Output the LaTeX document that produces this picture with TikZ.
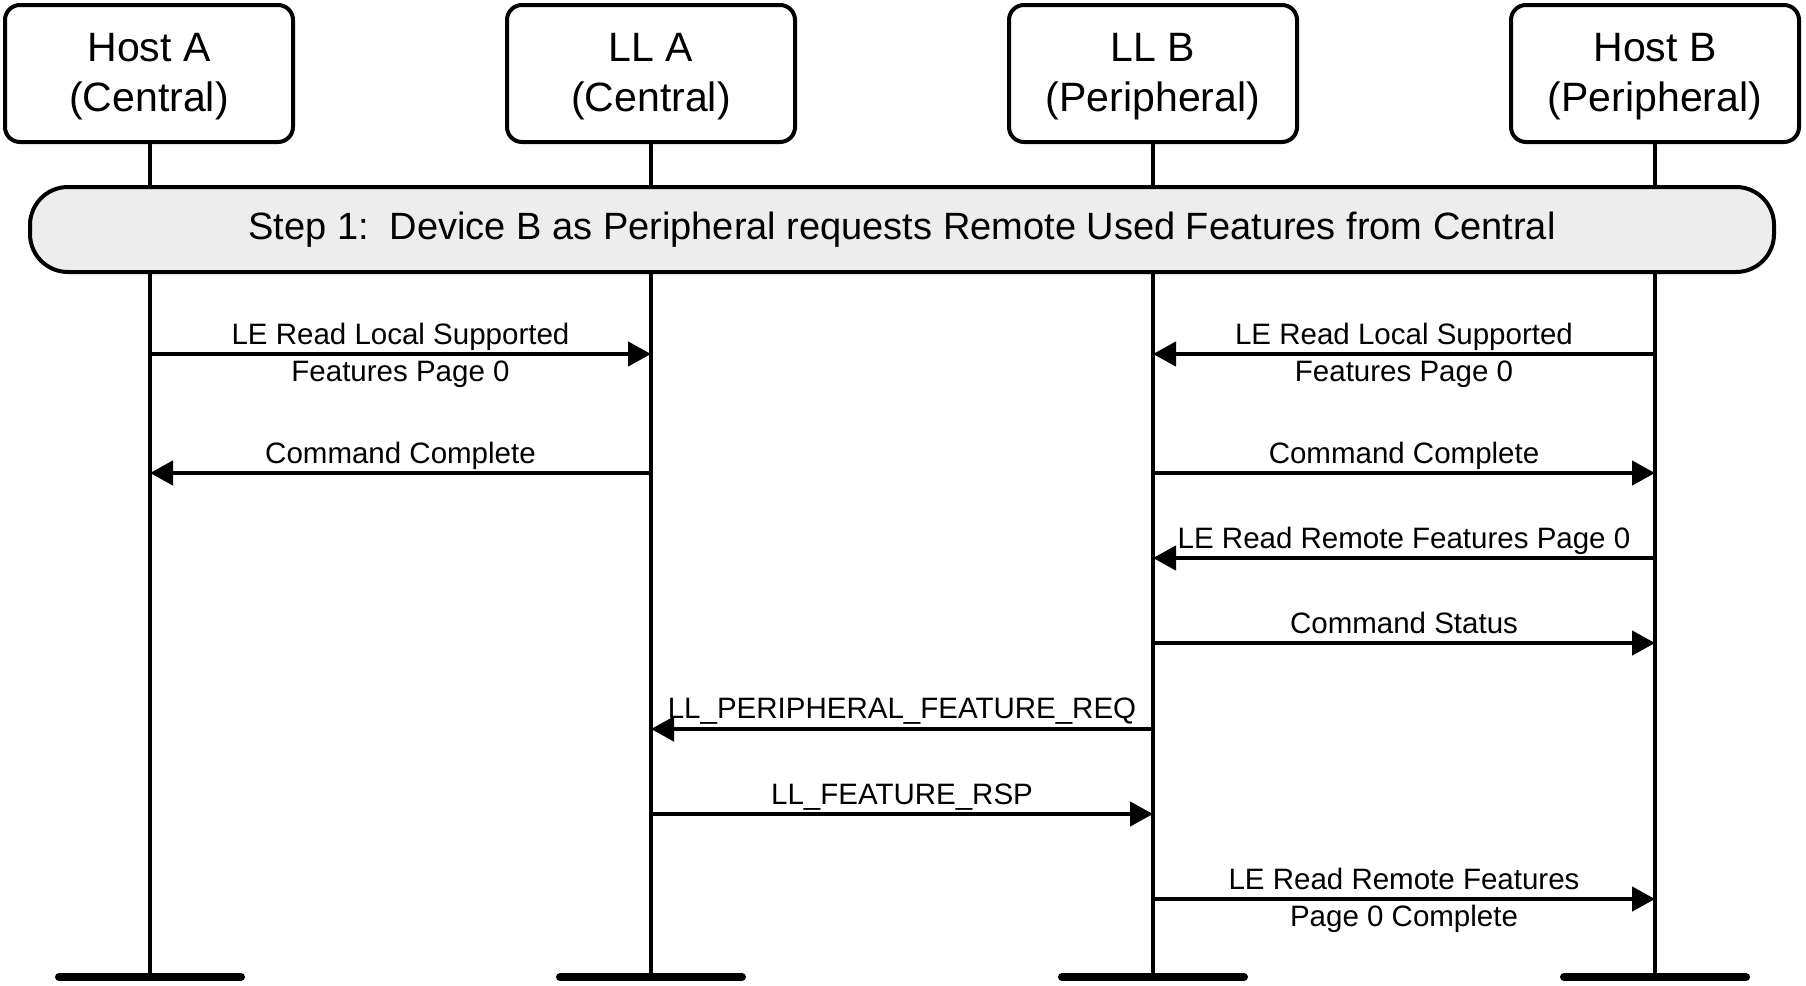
\documentclass[tikz,border=0pt]{standalone}
\usepackage{fontspec}
\setmainfont{Liberation Sans}
\usetikzlibrary{arrows.meta}
\begin{document}
\begin{tikzpicture}[x=1pt,y=-1pt,
  hdr/.style={draw, line width=4pt, rounded corners=15pt, minimum width=288pt, minimum height=137pt,
    align=center, inner sep=0pt, font=\fontsize{41}{50}\selectfont},
  life/.style={line width=3.5pt},
  bar/.style={line width=8pt, line cap=round},
  msg/.style={line width=4.5pt, -{Triangle[length=23pt,width=24pt]}},
  lbl/.style={anchor=base, inner sep=0pt, font=\fontsize{29.5}{35}\selectfont},
  band/.style={draw, line width=4pt, fill=black!7, rounded corners=38pt}
]
\useasboundingbox (0,0) rectangle (1806,985);
% headers
\node[hdr] (hA) at (149,73.5) {\rule{0pt}{34pt}Host A\\(Central)};
\node[hdr] (lA) at (651,73.5) {\rule{0pt}{34pt}LL A\\(Central)};
\node[hdr] (lB) at (1153,73.5) {\rule{0pt}{34pt}LL B\\(Peripheral)};
\node[hdr] (hB) at (1655,73.5) {\rule{0pt}{34pt}Host B\\(Peripheral)};
% lifeline ends
\coordinate (eA) at (150,977);
\coordinate (eLA) at (651,977);
\coordinate (eLB) at (1153,977);
\coordinate (eB) at (1655,977);
\draw[life] (hA.south -| eA) -- (eA);
\draw[life] (lA.south -| eLA) -- (eLA);
\draw[life] (lB.south -| eLB) -- (eLB);
\draw[life] (hB.south -| eB) -- (eB);
\draw[bar] ([xshift=-91pt]eA) -- ([xshift=91pt]eA);
\draw[bar] ([xshift=-91pt]eLA) -- ([xshift=91pt]eLA);
\draw[bar] ([xshift=-91pt]eLB) -- ([xshift=91pt]eLB);
\draw[bar] ([xshift=-91pt]eB) -- ([xshift=91pt]eB);
% step band
\draw[band] (30,187) rectangle (1774,272);
\node[inner sep=0pt, font=\fontsize{38}{45}\selectfont] (step) at (902,229.5) {Step 1:\ \ Device B as Peripheral requests Remote Used Features from Central};
% message endpoints
\foreach \n/\y in {1/354,2/473,3/558,4/643,5/729,6/814,7/899}{
  \coordinate (a\n) at (150,\y);
  \coordinate (b\n) at (651,\y);
  \coordinate (c\n) at (1153,\y);
  \coordinate (d\n) at (1655,\y);
}
% messages
\draw[msg] (a1) -- (b1);
\node[lbl] (m1a) at (400.5,344) {LE Read Local Supported};
\node[lbl] (m1b) at (400.5,381) {Features Page 0};
\draw[msg] (d1) -- (c1);
\node[lbl] (m2a) at (1404,344) {LE Read Local Supported};
\node[lbl] (m2b) at (1404,381) {Features Page 0};
\draw[msg] (b2) -- (a2);
\node[lbl] (m3) at (400.5,463) {Command Complete};
\draw[msg] (c2) -- (d2);
\node[lbl] (m4) at (1404,463) {Command Complete};
\draw[msg] (d3) -- (c3);
\node[lbl] (m5) at (1404,548) {LE Read Remote Features Page 0};
\draw[msg] (c4) -- (d4);
\node[lbl] (m6) at (1404,633) {Command Status};
\draw[msg] (c5) -- (b5);
\node[lbl] (m7) at (902,718) {LL\_PERIPHERAL\_FEATURE\_REQ};
\draw[msg] (b6) -- (c6);
\node[lbl] (m8) at (902,804) {LL\_FEATURE\_RSP};
\draw[msg] (c7) -- (d7);
\node[lbl] (m9a) at (1404,889) {LE Read Remote Features};
\node[lbl] (m9b) at (1404,926) {Page 0 Complete};
\end{tikzpicture}
\end{document}
